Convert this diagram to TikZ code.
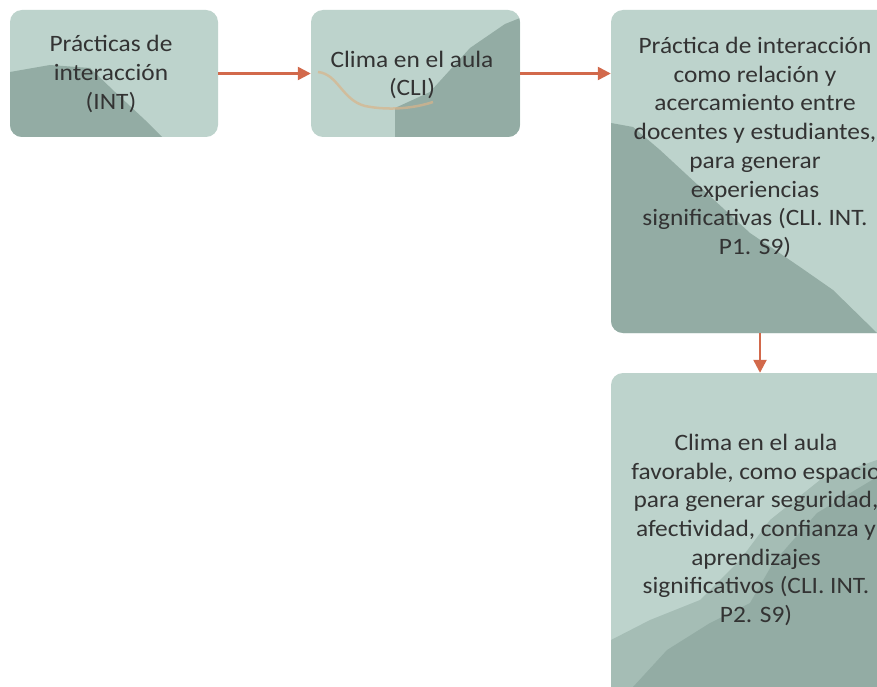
\documentclass[tikz,border=0pt]{standalone}
\usepackage{fontspec}
\setmainfont{Carlito}[FakeStretch=1.08]
\usetikzlibrary{arrows.meta}
\definecolor{boxlight}{HTML}{BDD3CC}
\definecolor{boxmid}{HTML}{A5BDB5}
\definecolor{boxdark}{HTML}{93ACA4}
\definecolor{arrowc}{HTML}{D2694B}
\definecolor{textc}{HTML}{333333}
\definecolor{tan}{HTML}{D9B48A}
\tikzset{
  box/.style={fill=boxlight, rounded corners=12pt, inner sep=0pt},
  label/.style={align=center, text=textc, font=\fontsize{23.5}{28.7}\selectfont, inner sep=0pt},
  conn/.style={draw=arrowc, line width=2.4pt, -{Triangle[length=13pt,width=13pt]}},
}
\begin{document}
\begin{tikzpicture}[x=1pt,y=-1pt]
\useasboundingbox (0,0) rectangle (877,687);
\fill[white] (0,0) rectangle (877,687);
% boxes
\node[box, minimum width=208pt, minimum height=127pt] (b1) at (114,73.5) {};
\node[box, minimum width=209pt, minimum height=127pt] (b2) at (415.5,73.5) {};
\node[box, minimum width=294pt, minimum height=323pt] (b3) at (758,171.5) {};
\node[box, minimum width=294pt, minimum height=340pt] (b4) at (758,543) {};
% decorations box 1
\begin{scope}
\clip[rounded corners=12pt] (10,10) rectangle (218,137);
\fill[boxdark] (10,72) -- (50,65) -- (90,68) -- (115,92) -- (145,120) -- (162,137) -- (10,137) -- cycle;
\end{scope}
% decorations box 2
\begin{scope}
\clip[rounded corners=12pt] (311,10) rectangle (520,137);
\fill[boxdark] (395,137) -- (395,108) -- (430,92) -- (470,48) -- (505,24) -- (520,18) -- (520,137) -- cycle;
\draw[tan, line width=2.5pt, opacity=0.7] (318,72) .. controls (338,74) and (342,100) .. (365,106) .. controls (390,111) and (415,108) .. (433,102);
\end{scope}
% decorations box 3
\begin{scope}
\clip[rounded corners=12pt] (611,10) rectangle (905,333);
\fill[boxdark] (611,123) -- (633,127) -- (660,150) -- (700,187) -- (750,233) -- (800,267) -- (833,290) -- (877,333) -- (611,333) -- cycle;
\end{scope}
% decorations box 4
\begin{scope}
\clip[rounded corners=12pt] (611,373) rectangle (905,713);
\fill[boxmid] (611,640) -- (650,620) -- (700,600) -- (740,560) -- (770,520) -- (820,480) -- (877,460) -- (877,713) -- (611,713) -- cycle;
\fill[boxdark] (633,687) -- (667,650) -- (710,623) -- (750,603) -- (773,563) -- (817,513) -- (877,477) -- (877,713) -- (620,713) -- cycle;
\end{scope}
% texts
\node[label] (t1) at (111,74) {Prácticas de\\interacción\\(INT)};
\node[label] (t2) at (412,75) {Clima en el aula\\(CLI)};
\node[label] (t3) at (755,147.5) {Práctica de interacción\\como relación y\\acercamiento entre\\docentes y estudiantes,\\para generar\\experiencias\\significativas (CLI. INT.\\P1. S9)};
\node[label] (t4) at (756,530) {Clima en el aula\\favorable, como espacio\\para generar seguridad,\\afectividad, confianza y\\aprendizajes\\significativos (CLI. INT.\\P2. S9)};
% connectors
\draw[conn] (b1.east) -- (b2.west);
\draw[conn] (b2.east) -- (b3.west |- b2.east);
\draw[conn] (b3.south -| 760,0) -- (b4.north -| 760,0);
\end{tikzpicture}
\end{document}
